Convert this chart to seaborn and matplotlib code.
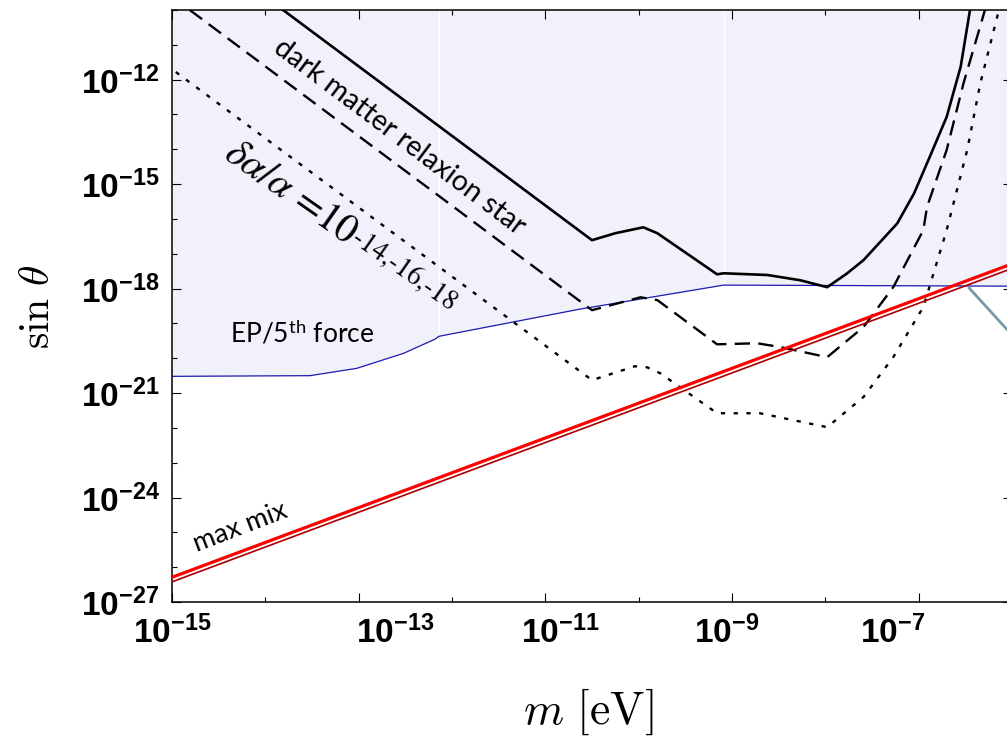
import numpy as np
import pandas as pd
import matplotlib
matplotlib.use("Agg")
import matplotlib.pyplot as plt
import matplotlib.transforms as mtransforms
import matplotlib.patheffects as pe
from matplotlib import font_manager
from matplotlib.ticker import FixedLocator, FuncFormatter, NullFormatter
import seaborn as sns

# ---- data (log10 of mass in eV and of sin(theta)) ----
ep_log_m = [-15.0, -13.52, -13.02, -12.52, -12.18, -12.14, -10.63, -9.09, -6.0]
ep_log_s = [-20.52, -20.50, -20.29, -19.86, -19.45, -19.37, -18.59, -17.90, -17.93]

star14_log_m = [-13.81, -10.50, -10.25, -9.95, -9.80, -9.16, -9.09, -8.62, -8.27, -7.98,
                -7.77, -7.59, -7.23, -7.05, -6.88, -6.70, -6.55, -6.45]
star14_log_s = [-10.0, -16.61, -16.41, -16.24, -16.41, -17.59, -17.56, -17.61, -17.76, -17.96,
                -17.57, -17.18, -16.13, -15.27, -14.21, -13.07, -11.63, -10.0]

star16_log_m = [-14.81, -10.50, -9.98, -9.80, -9.16, -8.73, -8.48, -7.98, -7.59, -7.27,
                -6.95, -6.91, -6.70, -6.52, -6.29]
star16_log_s = [-10.0, -18.62, -18.25, -18.33, -19.60, -19.57, -19.68, -19.97, -19.10, -17.95,
                -16.32, -15.65, -14.02, -12.11, -10.0]

star18_log_m = [-14.96, -10.50, -10.04, -9.91, -9.77, -9.16, -8.70, -7.98, -7.59, -7.27,
                -6.95, -6.70, -6.48, -6.34, -6.14]
star18_log_s = [-11.78, -20.63, -20.23, -20.26, -20.43, -21.58, -21.58, -21.98, -21.11, -19.96,
                -18.53, -16.32, -14.02, -12.11, -10.0]

maxmix_log_m = [-15.0, -6.0]
maxmix_log_s = [-26.29, -17.29]

x_major_exp = [-15, -13, -11, -9, -7]
y_major_exp = [-27, -24, -21, -18, -15, -12]

# ---- fonts ----
names = {f.name for f in font_manager.fontManager.ttflist}
tick_font = "Liberation Sans Narrow" if "Liberation Sans Narrow" in names else "Liberation Sans"
label_font = "Lato" if "Lato" in names else "DejaVu Sans"

sns.set_theme(style="ticks")
plt.rcParams.update({
    "font.family": [label_font, "DejaVu Sans"],
    "mathtext.fontset": "custom",
    "mathtext.rm": label_font,
    "mathtext.it": f"{label_font}:italic",
    "mathtext.bf": f"{tick_font}:bold",
    "axes.edgecolor": "black",
    "axes.linewidth": 1.1,
    "text.color": "black",
    "axes.labelcolor": "black",
    "xtick.color": "black",
    "ytick.color": "black",
})

fig = plt.figure(figsize=(10.07, 7.37), dpi=100)
ax = fig.add_axes([172 / 1007, 1 - 602 / 737, 840 / 1007, 592 / 737])

to_df = lambda lm, ls: pd.DataFrame({"m": 10.0 ** np.array(lm), "s": 10.0 ** np.array(ls)})
ep = to_df(ep_log_m, ep_log_s)

# excluded region (EP / fifth force)
ax.fill_between(ep["m"], ep["s"], 1e-10, color="#f0f1fa", lw=0, zorder=0)
for k in (5, 7):
    ax.vlines(ep["m"][k], ep["s"][k], 1e-10, color="white", lw=1.0, zorder=0.5)
sns.lineplot(data=ep, x="m", y="s", ax=ax, color="#1c1cb0", lw=0.9, sort=False, zorder=2)

# relaxion star curves
sns.lineplot(data=to_df(star14_log_m, star14_log_s), x="m", y="s", ax=ax, color="black",
             lw=1.9, sort=False, zorder=3)
sns.lineplot(data=to_df(star16_log_m, star16_log_s), x="m", y="s", ax=ax, color="black",
             lw=1.7, sort=False, zorder=3, dashes=(6.5, 3.5))
sns.lineplot(data=to_df(star18_log_m, star18_log_s), x="m", y="s", ax=ax, color="black",
             lw=1.7, sort=False, zorder=3, dashes=(1.8, 3.6))

# maximal mixing line (double red)
sns.lineplot(data=to_df(maxmix_log_m, maxmix_log_s), x="m", y="s", ax=ax, color="#ff0000",
             lw=2.3, sort=False, zorder=4,
             path_effects=[pe.SimpleLineShadow(offset=(0, -3.3), shadow_color="#a80000",
                                               alpha=1.0, linewidth=1.2),
                           pe.Normal()])

# pointer at right edge
ax.plot([0.948, 1.0], [0.532, 0.451], transform=ax.transAxes, color="#6a8ea2",
        lw=2.0, solid_capstyle="butt", zorder=4, alpha=0.9)

ax.set_xscale("log")
ax.set_yscale("log")
ax.set_xlim(1e-15, 1e-6)
ax.set_ylim(1e-27, 1e-10)

ax.xaxis.set_major_locator(FixedLocator(10.0 ** np.array(x_major_exp, dtype=float)))
ax.xaxis.set_minor_locator(FixedLocator(10.0 ** np.arange(-15, -5, dtype=float)))
ax.yaxis.set_major_locator(FixedLocator(10.0 ** np.array(y_major_exp, dtype=float)))
ax.yaxis.set_minor_locator(FixedLocator(10.0 ** np.arange(-27, -9, dtype=float)))
fmt = FuncFormatter(lambda v, p: rf"$\mathbf{{10^{{{int(round(np.log10(v)))}}}}}$")
ax.xaxis.set_major_formatter(fmt)
ax.yaxis.set_major_formatter(fmt)
ax.xaxis.set_minor_formatter(NullFormatter())
ax.yaxis.set_minor_formatter(NullFormatter())
ax.tick_params(which="both", direction="in", top=True, right=True, color="black",
               labelcolor="black", width=0.8)
ax.tick_params(which="major", length=6.5, labelsize=24)
ax.tick_params(which="minor", length=3.6)
ax.tick_params(axis="x", which="major", pad=9)
ax.tick_params(axis="y", which="major", pad=9)

fig.canvas.draw()
x_shift_px = [0, 36, 15, -5, -26]
for lab, dx in zip(ax.get_xticklabels(), x_shift_px):
    lab.set_transform(lab.get_transform() +
                      mtransforms.ScaledTranslation(dx / 100, 0, fig.dpi_scale_trans))

ax.set_xlabel(r"$m\ [\mathrm{eV}]$", fontsize=33, math_fontfamily="cm")
ax.set_ylabel(r"$\sin\,\theta$", fontsize=30, math_fontfamily="cm")
ax.xaxis.set_label_coords(0.496, -0.186)
ax.yaxis.set_label_coords(-0.161, 0.498)
ax.xaxis.label.set_va("center")
ax.yaxis.label.set_va("center")

# annotations
ax.text(10 ** -12.56, 10 ** -13.66, "dark matter relaxion star", fontsize=20.5,
        rotation=-37, rotation_mode="anchor", ha="center", va="center", color="black")

# coupling label: main part followed by a smaller, slightly raised exponent list
ang = -35.0
main_str = r"$\delta\alpha/\alpha$ =10"
sup_str = "-14,-16,-18"
serif_kw = dict(family="STIXGeneral", math_fontfamily="stix", color="black")
anchor = (10 ** -14.464, 10 ** -14.22)
ax.text(*anchor, main_str, fontsize=29, rotation=ang, rotation_mode="anchor",
        ha="left", va="baseline", **serif_kw)
probe = fig.text(0, 0, main_str, fontsize=29, **serif_kw)
fig.canvas.draw()
w_px = probe.get_window_extent().width
probe.remove()
th = np.deg2rad(ang)
raise_px = 4.0
off_x = w_px * np.cos(th) - raise_px * np.sin(th)
off_y = w_px * np.sin(th) + raise_px * np.cos(th)
ax.text(*anchor, sup_str, fontsize=19.5, rotation=ang, rotation_mode="anchor",
        ha="left", va="baseline",
        transform=ax.transData + mtransforms.ScaledTranslation(off_x / 100, off_y / 100,
                                                              fig.dpi_scale_trans),
        **serif_kw)

ax.text(10 ** -13.61, 10 ** -19.28, r"EP/5$^{\mathrm{th}}$ force", fontsize=19,
        ha="center", va="center", color="black")
ax.text(10 ** -14.27, 10 ** -24.86, "max mix", fontsize=19.5, rotation=21,
        rotation_mode="anchor", ha="center", va="center", color="black")

sns.despine(ax=ax, top=False, right=False)
fig.savefig("out.png", dpi=100)
